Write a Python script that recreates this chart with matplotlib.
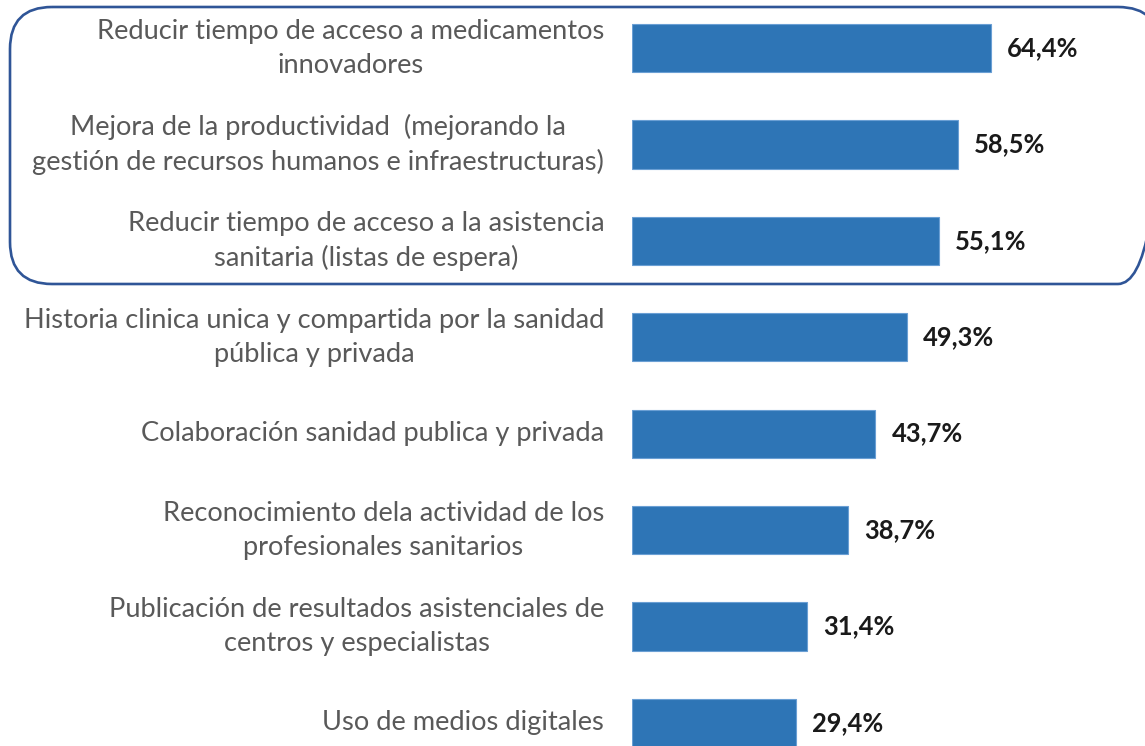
import matplotlib
matplotlib.use("Agg")
import matplotlib.pyplot as plt
from matplotlib.patches import FancyBboxPatch

labels = [
    "Reducir tiempo de acceso a medicamentos\ninnovadores",
    "Mejora de la productividad  (mejorando la\ngestión de recursos humanos e infraestructuras)",
    "Reducir tiempo de acceso a la asistencia\nsanitaria (listas de espera)",
    "Historia clinica unica y compartida por la sanidad\npública y privada",
    "Colaboración sanidad publica y privada",
    "Reconocimiento dela actividad de los\nprofesionales sanitarios",
    "Publicación de resultados asistenciales de\ncentros y especialistas",
    "Uso de medios digitales",
]
values = [64.4, 58.5, 55.1, 49.3, 43.7, 38.7, 31.4, 29.4]

plt.rcParams["font.family"] = ["Lato", "DejaVu Sans"]

W, H = 1145, 746
fig = plt.figure(figsize=(W / 100, H / 100), dpi=100)

# bar area starts at x=632 px and spans the full height
ax = fig.add_axes([632 / W, 0, 1 - 632 / W, 1])
pos = list(range(len(values)))
ax.barh(pos, values, height=0.5, color="#2E75B6", edgecolor="#6A9FD4", linewidth=0.8)
ax.set_xlim(0, (W - 632) / 5.57)
ax.set_ylim(7.24, -0.498)

for p, v in zip(pos, values):
    ax.text(v + 2.9, p, f"{v:.1f}%".replace(".", ","), va="center", ha="left",
            fontsize=18.4, fontweight="bold", color="#1a1a1a")

ax.set_yticks(pos)
ax.set_yticklabels(labels, fontsize=19.6, color="#595959")
for t in ax.get_yticklabels():
    t.set_multialignment("center")
    t.set_linespacing(1.45)
    t.set_verticalalignment("center")
ax.tick_params(axis="y", length=0, pad=20)
ax.set_xticks([])
for s in ax.spines.values():
    s.set_visible(False)
ax.patch.set_alpha(0)

# rounded frame around the top three items, drawn in pixel coordinates
ov = fig.add_axes([0, 0, 1, 1], zorder=-1)
ov.set_xlim(0, W)
ov.set_ylim(H, 0)
ov.axis("off")
ov.add_patch(FancyBboxPatch((10, 7), 1150, 277,
                            boxstyle="round,pad=0,rounding_size=42",
                            fill=False, edgecolor="#2F5597", linewidth=1.9))

fig.savefig("out.png", dpi=100)
